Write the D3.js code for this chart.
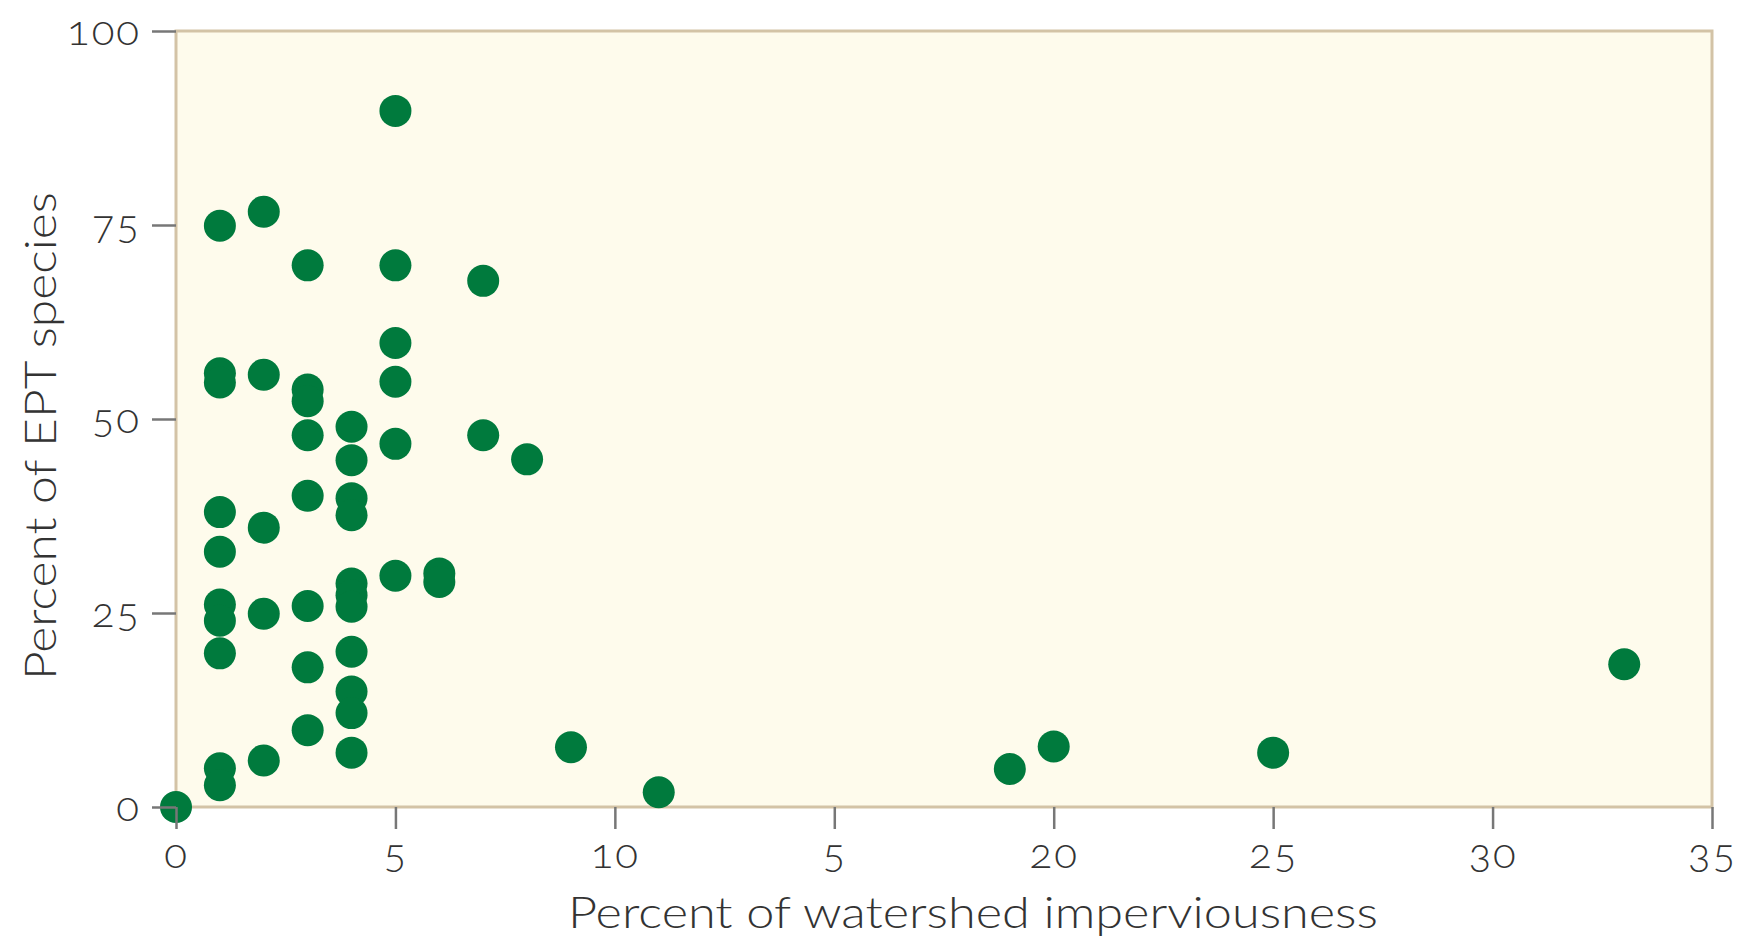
<!DOCTYPE html>
<html>
<head>
<meta charset="utf-8">
<script src="https://cdn.jsdelivr.net/npm/d3@7"></script>
<style>
  body { margin: 0; background: #fff; }
  text { font-family: Lato, "Open Sans", sans-serif; fill: #333; }
  .tick text { font-variant-numeric: oldstyle-nums; }
</style>
</head>
<body>
<svg id="chart"></svg>
<script>

// data
var impervious = [0, 5, 1, 2, 3, 5, 7, 5, 1, 1, 2, 5, 3, 3, 3, 4, 4, 5, 7, 8,
                  3, 4, 4, 1, 2, 1, 5, 6, 6, 4, 4, 4, 3, 1, 1, 2, 1, 4, 3, 4,
                  4, 3, 4, 1, 1, 2, 9, 11, 19, 20, 25, 33];
var eptPercent = [0, 89.7, 74.9, 76.7, 69.8, 69.8, 67.8, 59.8, 55.9, 54.7, 55.7, 54.8, 53.8, 52.3, 47.9, 49, 44.7, 46.8, 47.9, 44.8,
                  40.1, 39.8, 37.6, 38, 36, 32.9, 29.8, 30.1, 29, 28.8, 27.3, 25.8, 25.9, 26.1, 24, 24.9, 19.8, 20, 18, 14.9,
                  12.1, 9.9, 7, 5, 2.8, 6, 7.7, 1.9, 4.9, 7.8, 7, 18.4];

var x_ticks = [0, 5, 10, 15, 20, 25, 30, 35];
var x_tick_labels = ["0", "5", "10", "5", "20", "25", "30", "35"];
var y_ticks = [0, 25, 50, 75, 100];

var width = 1747, height = 941;
var margin = {top: 31, right: 35, bottom: 134, left: 176};

var svg = d3.select("#chart")
    .attr("width", width)
    .attr("height", height);

var x = d3.scaleLinear().domain([0, 35]).range([margin.left, width - margin.right]);
var y = d3.scaleLinear().domain([0, 100]).range([height - margin.bottom, margin.top]);

// plot background
svg.append("rect")
    .attr("x", x(0))
    .attr("y", y(100))
    .attr("width", x(35) - x(0))
    .attr("height", y(0) - y(100))
    .attr("fill", "#fefbec")
    .attr("stroke", "#d3c3a6")
    .attr("stroke-width", 3);

// dots
svg.append("g").selectAll("circle")
    .data(impervious)
    .enter()
    .append("circle")
    .attr("cx", function (d) { return x(d); })
    .attr("cy", function (d, i) { return y(eptPercent[i]); })
    .attr("r", 16)
    .attr("fill", "#007a3d");

// axes
var yAxis = svg.append("g")
    .attr("transform", "translate(" + x(0) + ",0)")
    .call(d3.axisLeft(y).tickValues(y_ticks).tickSize(24).tickPadding(11));

var xAxis = svg.append("g")
    .attr("transform", "translate(0," + y(0) + ")")
    .call(d3.axisBottom(x).tickValues(x_ticks)
        .tickFormat(function (d, i) { return x_tick_labels[i]; })
        .tickSize(22).tickPadding(9));

[yAxis, xAxis].forEach(function (a) {
    a.select(".domain").remove();
    a.selectAll(".tick line").attr("stroke", "#777").attr("stroke-width", 2.5);
    a.selectAll(".tick text")
        .style("font-size", "42px")
        .style("font-weight", 300)
        .style("letter-spacing", "2px")
        .style("font-family", "Lato, sans-serif")
        .attr("fill", "#333");
});

// titles
svg.append("text")
    .attr("x", 973)
    .attr("y", 928)
    .attr("text-anchor", "middle")
    .attr("textLength", 810)
    .attr("lengthAdjust", "spacingAndGlyphs")
    .style("font-size", "44px")
    .style("font-weight", 300)
    .text("Percent of watershed imperviousness");

svg.append("text")
    .attr("transform", "translate(56,436) rotate(-90)")
    .attr("text-anchor", "middle")
    .attr("textLength", 488)
    .attr("lengthAdjust", "spacingAndGlyphs")
    .style("font-size", "44px")
    .style("font-weight", 300)
    .text("Percent of EPT species");

</script>
</body>
</html>
